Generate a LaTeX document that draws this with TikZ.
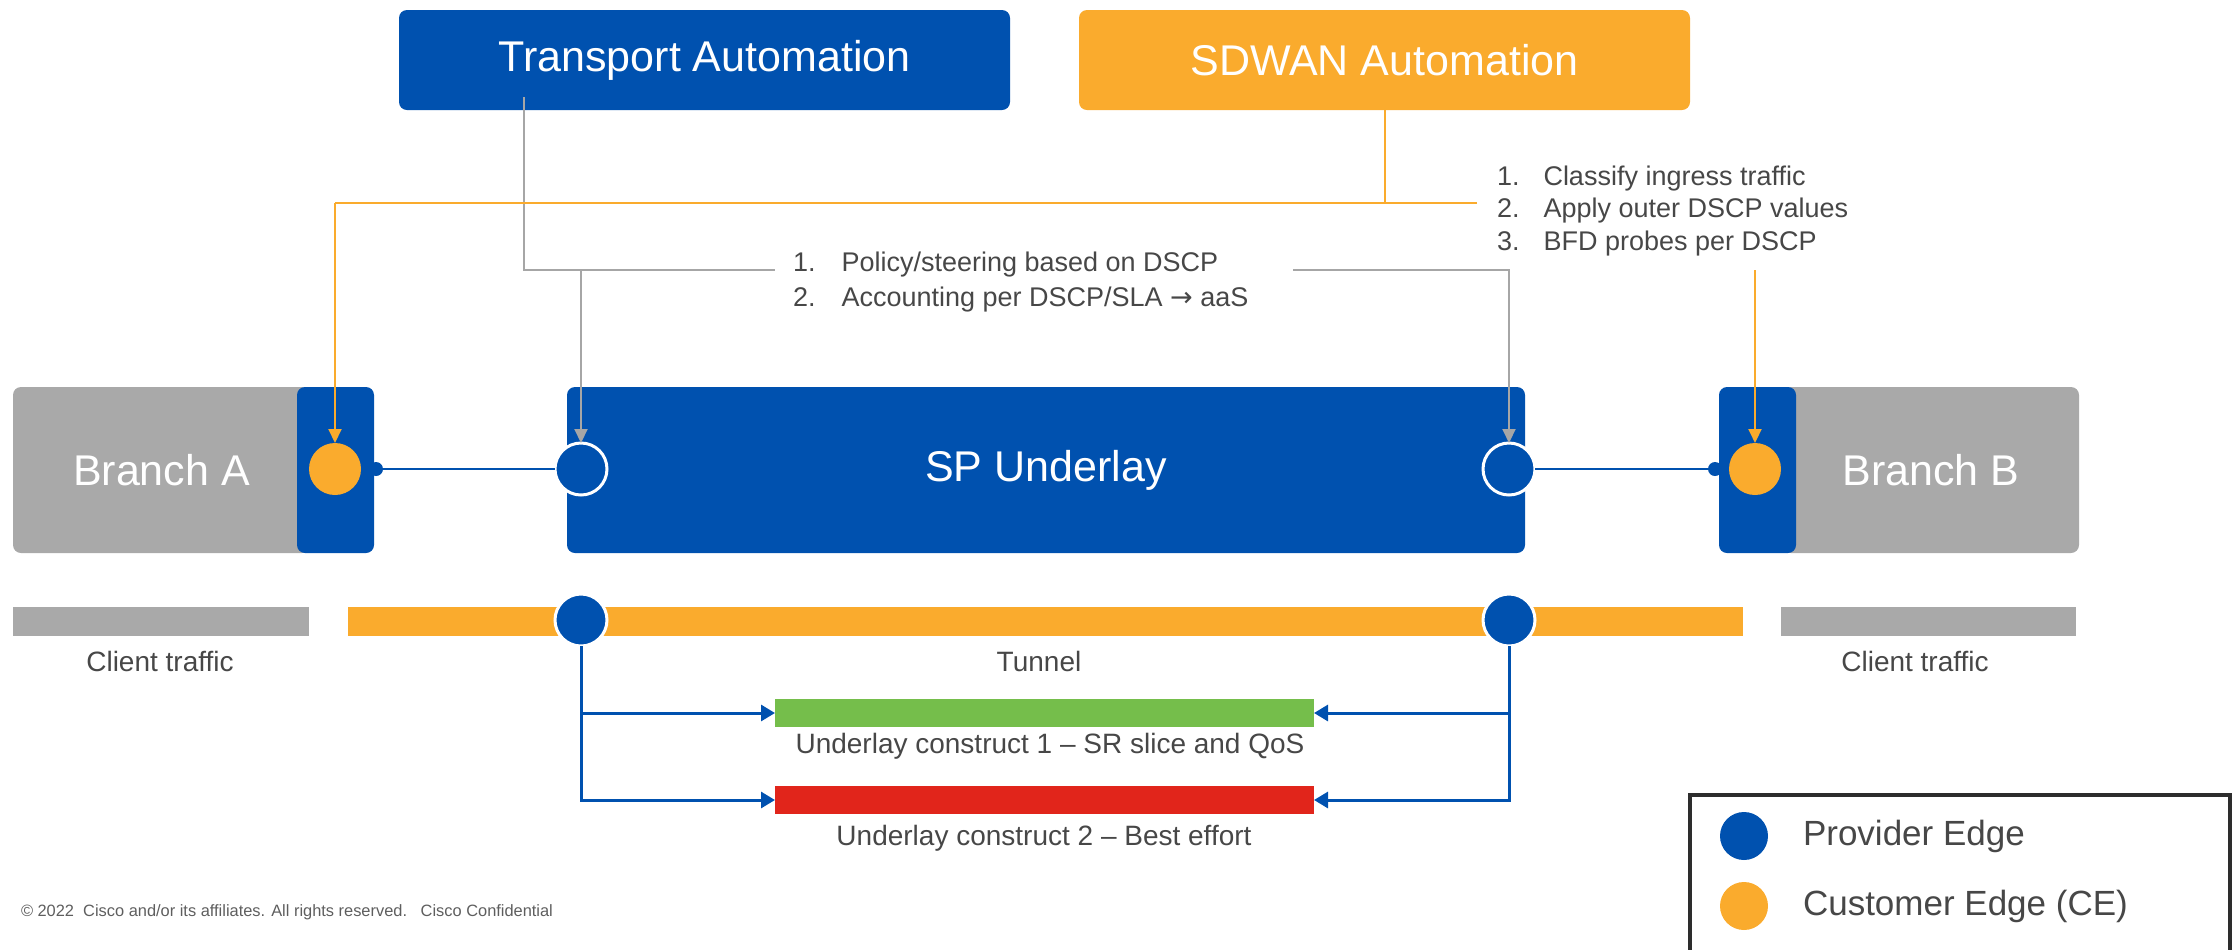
\documentclass[tikz,border=0pt]{standalone}
\usepackage{fontspec}
\setmainfont{Liberation Sans}
\newfontfamily\arrowfont{DejaVu Sans}
\usetikzlibrary{arrows.meta}
\definecolor{ciscoblue}{HTML}{0051AF}
\definecolor{sdorange}{HTML}{FAAB2D}
\definecolor{branchgray}{HTML}{A9A9A9}
\definecolor{linegray}{HTML}{A6A6A6}
\definecolor{slicegreen}{HTML}{75BE4B}
\definecolor{effortred}{HTML}{E1251B}
\definecolor{txtgray}{HTML}{474747}
\definecolor{copygray}{HTML}{5E5E5E}
\definecolor{framegray}{HTML}{2D2D2D}

\begin{document}
\begin{tikzpicture}[x=0.5pt,y=-0.5pt]
\tikzstyle{every node}=[inner sep=0pt,outer sep=0pt]
\tikzstyle{topbox}=[rectangle,rounded corners=4pt,minimum width=305.5pt,minimum height=50pt,text=white,font=\fontsize{21.5}{26}\selectfont]
\tikzstyle{bigbox}=[rectangle,rounded corners=4pt,minimum height=83pt,text=white,font=\fontsize{21.5}{26}\selectfont]
\tikzstyle{pe}=[circle,fill=ciscoblue,draw=white,line width=1.5pt,minimum size=26pt]
\tikzstyle{ce}=[circle,fill=sdorange,minimum size=26pt]
\tikzstyle{bump}=[circle,fill=ciscoblue,minimum size=7pt]
\tikzstyle{bar}=[rectangle,minimum height=14.5pt]
\tikzstyle{lbl}=[text=txtgray,font=\fontsize{14}{17}\selectfont]
\tikzstyle{tline}=[line width=1pt,color=linegray]
\tikzstyle{oline}=[line width=1pt,color=sdorange]
\tikzstyle{bline}=[line width=1.5pt,color=ciscoblue]
\useasboundingbox (0,0) rectangle (2233,949);
\node[topbox,fill=ciscoblue] (transport) at (704.5,60) {Transport Automation};
\node[topbox,fill=sdorange] (sdwan) at (1384.5,60) {SDWAN Automation};
\node[bigbox,fill=branchgray,minimum width=148.5pt] (branchA) at (161.5,470) {Branch A};
\node[bigbox,fill=ciscoblue,minimum width=38.5pt] (edgeA) at (335.5,470) {};
\node[bigbox,fill=ciscoblue,minimum width=479pt] (underlay) at (1046,470) {SP Underlay};
\node[bigbox,fill=branchgray,minimum width=148pt] (branchB) at (1931,470) {Branch B};
\node[bigbox,fill=ciscoblue,minimum width=38.5pt] (edgeB) at (1757.5,470) {};
\node[bump] (bumpA) at (376,469) {};
\node[bump] (bumpB) at (1715,469) {};
\node[ce] (ceA) at (335,469) {};
\node[pe] (peA) at (581,469) {};
\node[pe] (peB) at (1509,469) {};
\node[ce] (ceB) at (1755,469) {};
\node[bar,fill=branchgray,minimum width=148pt] (clientA) at (161,621.5) {};
\node[bar,fill=sdorange,minimum width=697.5pt] (tunnel) at (1045.5,621.5) {};
\node[bar,fill=branchgray,minimum width=147.5pt] (clientB) at (1928.5,621.5) {};
\node[pe] (tpeA) at (581,620) {};
\node[pe] (tpeB) at (1509,620) {};
\node[bar,fill=slicegreen,minimum width=269.5pt,minimum height=14pt] (slice) at (1044.5,713) {};
\node[bar,fill=effortred,minimum width=269.5pt,minimum height=14pt] (effort) at (1044.5,800) {};
\node[lbl] (clientAtxt) at (160,661) {Client traffic};
\node[lbl] (tunneltxt) at (1039,661) {Tunnel};
\node[lbl] (clientBtxt) at (1915,661) {Client traffic};
\node[lbl] (slicetxt) at (1050,746) {Underlay construct 1 – SR slice and QoS};
\node[lbl] (efforttxt) at (1044,838) {Underlay construct 2 – Best effort};
\node[lbl,anchor=west,font=\fontsize{13.5}{17.5}\selectfont] (tlist) at (793,282) {\begin{tabular}{@{}l@{\hspace{13pt}}l@{}}1. & Policy/steering based on DSCP\\2. & Accounting per DSCP/SLA {\arrowfont→} aaS\end{tabular}};
\node[lbl,anchor=west,font=\fontsize{13.5}{16.25}\selectfont] (slist) at (1497,211) {\begin{tabular}{@{}l@{\hspace{12pt}}l@{}}1. & Classify ingress traffic\\2. & Apply outer DSCP values\\3. & BFD probes per DSCP\end{tabular}};
\coordinate (tS) at (524,97);
\coordinate (tE) at (775,270);
\coordinate (tR) at (1293,270);
\coordinate (oL) at (335,203);
\coordinate (oR) at (1477,203);
\coordinate (oB) at (1755,270);
\draw[tline] (tS) |- (tE);
\draw[tline,-{Triangle[length=7pt,width=6.5pt]}] (peA |- tE) -- (peA.north);
\draw[tline,-{Triangle[length=7pt,width=6.5pt]}] (tR) -| (peB.north);
\draw[oline] (sdwan.south) -- (sdwan.south |- oL);
\draw[oline] (oR) -- (oL);
\draw[oline,-{Triangle[length=7pt,width=6.5pt]}] (oL) -- (ceA.north);
\draw[oline,-{Triangle[length=7pt,width=6.5pt]}] (oB) -- (ceB.north);
\draw[line width=1.2pt,color=ciscoblue] (bumpA) -- (peA);
\draw[line width=1.2pt,color=ciscoblue] (peB) -- (bumpB);
\draw[bline,-{Triangle[length=7pt,width=8pt]}] (tpeA.south) |- (effort.west);
\draw[bline,-{Triangle[length=7pt,width=8pt]}] (tpeA |- slice.west) -- (slice.west);
\draw[bline,-{Triangle[length=7pt,width=8pt]}] (tpeB.south) |- (effort.east);
\draw[bline,-{Triangle[length=7pt,width=8pt]}] (tpeB |- slice.east) -- (slice.east);
\draw[line width=2pt,color=framegray] (1690,795) rectangle (2230,960);
\node[circle,fill=ciscoblue,minimum size=24pt] (legPE) at (1744,836) {};
\node[circle,fill=sdorange,minimum size=24pt] (legCE) at (1744,906) {};
\node[lbl,anchor=west,font=\fontsize{17.5}{21}\selectfont] (legPEtxt) at (1803,836) {Provider Edge};
\node[lbl,anchor=west,font=\fontsize{17.5}{21}\selectfont] (legCEtxt) at (1803,906) {Customer Edge (CE)};
\node[anchor=west,text=copygray,font=\fontsize{8.2}{10}\selectfont] (copy) at (21,912) {© 2022\ \ Cisco and/or its affiliates. All rights reserved.\ \ \ Cisco Confidential};
\end{tikzpicture}
\end{document}
